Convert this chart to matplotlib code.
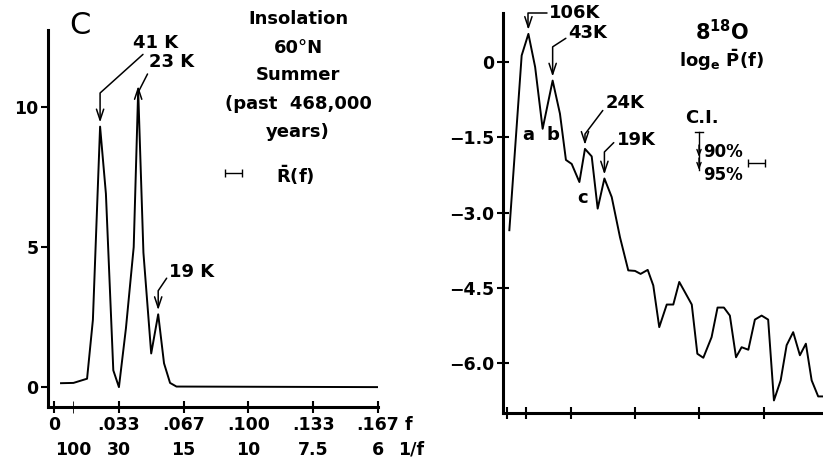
import numpy as np
import matplotlib.pyplot as plt

plt.rcParams['font.family'] = 'DejaVu Sans'
plt.rcParams['font.weight'] = 'bold'
plt.rcParams['mathtext.default'] = 'bf'

# panel C: insolation 60N summer, spectrum R(f)
f_ins = [0.0036, 0.010, 0.017, 0.020, 0.0237, 0.0267, 0.0305, 0.0334, 0.037,
         0.041, 0.0433, 0.046, 0.050, 0.0536, 0.0566, 0.0597, 0.063, 0.1665]
r_ins = [0.14, 0.15, 0.30, 2.4, 9.3, 6.9, 0.6, 0.0, 2.1,
         5.0, 10.6, 4.8, 1.2, 2.6, 0.85, 0.15, 0.02, 0.0]

# delta 18O, log_e P(f)
f_o18 = [0.0012, 0.0076, 0.0111, 0.0146, 0.0185, 0.0237, 0.0275, 0.0306, 0.0336,
         0.0376, 0.0405, 0.044, 0.0471, 0.0506, 0.0544, 0.0587, 0.063, 0.0665,
         0.0694, 0.0731, 0.076, 0.0791, 0.083, 0.0864, 0.0895, 0.0924, 0.096,
         0.0989, 0.102, 0.1063, 0.1094, 0.1127, 0.1158, 0.119, 0.1219, 0.1254,
         0.1288, 0.1323, 0.1357, 0.1387, 0.1422, 0.1453, 0.1487, 0.1522, 0.1553,
         0.1583, 0.1617, 0.1642]
logp_o18 = [-3.35, 0.13, 0.56, -0.10, -1.33, -0.37, -1.03, -1.95, -2.03,
            -2.39, -1.73, -1.88, -2.92, -2.32, -2.69, -3.49, -4.15, -4.16,
            -4.22, -4.14, -4.45, -5.28, -4.83, -4.83, -4.38, -4.58, -4.83,
            -5.81, -5.89, -5.48, -4.89, -4.89, -5.05, -5.88, -5.68, -5.73,
            -5.13, -5.05, -5.13, -6.74, -6.34, -5.64, -5.38, -5.84, -5.61,
            -6.34, -6.66, -6.66]

f_ticks = [0, 0.0333, 0.0667, 0.1, 0.1333, 0.1667]
f_labels = ['0', '.033', '.067', '.100', '.133', '.167']
periods = [100, 30, 15, 10, 7.5, 6]
period_labels = ['100', '30', '15', '10', '7.5', '6']

ins_yticks = [0, 5, 10]
o18_yticks = [0, -1.5, -3.0, -4.5, -6.0]
o18_ylabels = ['0', '\u22121.5', '\u22123.0', '\u22124.5', '\u22126.0']

# peaks that get labels (index into arrays, label, text pos, angleA, relpos)
ins_peaks = [(4, '41 K', (0.052, 12.3), 42, (0.3, 0.0)),
             (10, '23 K', (0.0607, 11.6), 63, (0.05, 0.3)),
             (13, '19 K', (0.071, 4.1), 56, (0.0, 0.4))]
o18_peaks = [(2, '106K', (0.0353, 0.976), 0, (0.0, 0.5)),
             (5, '43K', (0.0421, 0.58), 33, (0.0, 0.3)),
             (10, '24K', (0.0613, -0.82), 53, (0.0, 0.3)),
             (13, '19K', (0.067, -1.55), 45, (0.0, 0.5))]

FS = 13
TFS = 12.5
W, H = 823, 465

fig = plt.figure(figsize=(W / 100, H / 100), dpi=100)
ax1 = fig.add_axes([48 / W, 1 - 407 / H, 330 / W, 377 / H])
ax2 = fig.add_axes([503 / W, 1 - 413 / H, 320 / W, 400 / H])

for ax in (ax1, ax2):
    for s in ('top', 'right'):
        ax.spines[s].set_visible(False)
    for s in ('left', 'bottom'):
        ax.spines[s].set_linewidth(2.2)
    ax.tick_params(labelsize=TFS, width=1.5, colors='black')

# ---- left panel
ax1.plot(f_ins, r_ins, color='black', lw=1.4)
ax1.set_xticks(f_ticks)
ax1.set_xticklabels(f_labels)
ax1.set_xticks([0.01], minor=True)
ax1.set_yticks(ins_yticks)
ax1.tick_params(axis='x', which='both', direction='inout', length=9, pad=2)
ax1.tick_params(axis='y', direction='out', length=5, pad=2)

xt = ax1.get_xaxis_transform()
for p, lab in zip(periods, period_labels):
    ax1.text(1.0 / p, -0.114, lab, transform=xt, ha='center', va='center', fontsize=TFS)
ax1.text(1.092, -0.048, 'f', transform=ax1.transAxes, ha='center', va='center', fontsize=TFS)
ax1.text(1.10, -0.114, '1/f', transform=ax1.transAxes, ha='center', va='center', fontsize=TFS)

ax1.text(0.097, 1.013, 'C', transform=ax1.transAxes, ha='center', va='center',
         fontsize=22, fontweight='normal')
for yy, line in zip([1.029, 0.952, 0.881, 0.804, 0.729],
                    ['Insolation', '60\u00b0N', 'Summer', '(past  468,000', 'years)']):
    ax1.text(0.758, yy, line, transform=ax1.transAxes, ha='center', va='center', fontsize=FS)
ax1.errorbar([0.562], [0.621], xerr=[0.026], transform=ax1.transAxes, fmt='none',
             ecolor='black', elinewidth=1, capsize=3, clip_on=False)
ax1.text(0.748, 0.615, r'$\bar{R}$(f)', transform=ax1.transAxes, ha='center', va='center', fontsize=FS)

for i, lab, pos, angA, rp in ins_peaks:
    ax1.annotate(lab, xy=(f_ins[i], r_ins[i] + 0.15), xytext=pos, ha='center', va='center',
                 fontsize=FS, annotation_clip=False,
                 arrowprops=dict(arrowstyle='->,head_length=0.6,head_width=0.2',
                                 connectionstyle=f'angle,angleA={angA},angleB=90,rad=0',
                                 relpos=rp, shrinkA=0, shrinkB=0, lw=1.1, color='black'))

# ---- right panel
ax2.plot(f_o18, logp_o18, color='black', lw=1.4)
ax2.set_xticks([0, 0.01] + f_ticks[1:5])
ax2.set_xticklabels([])
ax2.set_yticks(o18_yticks)
ax2.set_yticklabels(o18_ylabels)
ax2.tick_params(axis='x', direction='inout', length=9)
ax2.tick_params(axis='y', direction='inout', length=9, pad=2)

for i, lab, pos, angA, rp in o18_peaks:
    ax2.annotate(lab, xy=(f_o18[i], logp_o18[i] + 0.08), xytext=pos, ha='center', va='center',
                 fontsize=FS, annotation_clip=False,
                 arrowprops=dict(arrowstyle='->,head_length=0.6,head_width=0.2',
                                 connectionstyle=f'angle,angleA={angA},angleB=90,rad=0',
                                 relpos=rp, shrinkA=0, shrinkB=0, lw=1.1, color='black'))

for lab, (x, y) in zip(['a', 'b', 'c'], [(0.0109, -1.45), (0.0239, -1.45), (0.0395, -2.71)]):
    ax2.text(x, y, lab, ha='center', va='center', fontsize=FS)

ax2.text(0.684, 0.9525, r'8$^{18}$O', transform=ax2.transAxes, ha='center', va='center', fontsize=15)
ax2.text(0.684, 0.8825, r'log$_e$ $\bar{P}$(f)', transform=ax2.transAxes, ha='center', va='center', fontsize=FS)
ax2.text(0.622, 0.7375, 'C.I.', transform=ax2.transAxes, ha='center', va='center', fontsize=FS)

ci_x, ci_top, ci90, ci95 = 0.6125, 0.7025, 0.64, 0.6075
ax2.plot([ci_x, ci_x], [ci_top, ci95], transform=ax2.transAxes, color='black', lw=1, clip_on=False)
ax2.plot([ci_x - 0.012, ci_x + 0.012], [ci_top, ci_top], transform=ax2.transAxes,
         color='black', lw=1, clip_on=False)
for yy in (ci90, ci95):
    ax2.annotate('', xy=(ci_x, yy), xytext=(ci_x, yy + 0.03), xycoords='axes fraction',
                 arrowprops=dict(arrowstyle='->,head_length=0.4,head_width=0.15', lw=1,
                                 color='black', shrinkA=0, shrinkB=0))
ax2.text(0.688, 0.6525, '90%', transform=ax2.transAxes, ha='center', va='center', fontsize=12)
ax2.text(0.688, 0.595, '95%', transform=ax2.transAxes, ha='center', va='center', fontsize=12)
ax2.errorbar([0.7925], [0.625], xerr=[0.027], transform=ax2.transAxes, fmt='none',
             ecolor='black', elinewidth=1, capsize=3, clip_on=False)

ax1.set_xlim(-0.0031, 0.1667)
ax1.set_ylim(-0.71, 12.75)
ax2.set_xlim(-0.0021, 0.1642)
ax2.set_ylim(-6.99, 0.976)

fig.savefig('out.png', dpi=100)
